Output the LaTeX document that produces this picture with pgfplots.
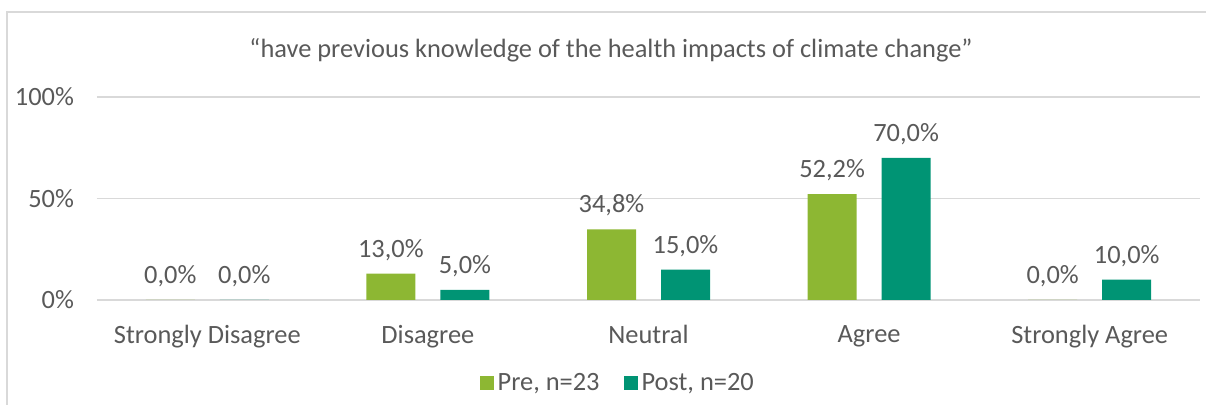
\documentclass[border=0pt]{standalone}
\usepackage{pgfplots}
\pgfplotsset{compat=1.18}
\usepackage{fontspec}
\setmainfont{Carlito}
\definecolor{pregreen}{RGB}{141,183,51}
\definecolor{postteal}{RGB}{0,148,116}
\definecolor{txtgray}{RGB}{89,89,89}
\definecolor{gridgray}{RGB}{217,217,217}
\definecolor{framegray}{RGB}{217,217,217}
\begin{document}
\begin{tikzpicture}
\path[use as bounding box] (-48.5pt,-52.5pt) rectangle (554.5pt,150pt);
\draw[framegray, line width=0.8pt] (-45pt,-60pt) -- (-45pt,144pt) -- (560pt,144pt);
\begin{axis}[
  at={(0pt,0pt)}, anchor=south west,
  scale only axis, width=551.5pt, height=101.5pt,
  xmin=-0.5, xmax=4.5, ymin=0, ymax=100,
  ybar, bar width=24.5pt,
  axis line style={draw=none},
  xtick={0,1,2,3,4},
  xticklabels={Strongly Disagree, Disagree, Neutral, Agree, Strongly Agree},
  ytick={0,50,100},
  yticklabel={\pgfmathprintnumber{\tick}\%},
  /pgf/number format/assume math mode=true,
  major tick style={draw=none},
  ymajorgrids, grid style={gridgray, line width=0.8pt},
  every tick label/.append style={font=\fontsize{13.2}{15}\selectfont, text=txtgray},
  yticklabel style={xshift=-8pt},
  xticklabel style={yshift=-5pt},
  nodes near coords={\pgfmathprintnumber[fixed,fixed zerofill,precision=1,use comma]{\pgfplotspointmeta}\%},
  every node near coord/.append style={font=\fontsize{13.2}{15}\selectfont, text=txtgray, anchor=south, yshift=3pt},
  legend style={at={(axis description cs:0.473,-0.409)}, anchor=center, draw=none, fill=none,
    legend columns=2, font=\fontsize{13.2}{15}\selectfont, text=txtgray,
    /tikz/every even column/.append style={column sep=10pt}},
  legend image code/.code={\fill[#1] (0pt,-3.5pt) rectangle (7pt,3.5pt);},
  clip=false,
]
\addplot[fill=pregreen, draw=none, bar shift=-18.5pt] coordinates {(0,0) (1,13.0) (2,34.8) (3,52.2) (4,0)};
\addplot[fill=postteal, draw=none, bar shift=18.5pt] coordinates {(0,0) (1,5.0) (2,15.0) (3,70.0) (4,10.0)};
\legend{Pre{,} n=23, Post{,} n=20}
\node[font=\fontsize{13.2}{15}\selectfont, text=txtgray] at (axis description cs:0.466,1.232)
  {“have previous knowledge of the health impacts of climate change”};
\end{axis}
\end{tikzpicture}
\end{document}
